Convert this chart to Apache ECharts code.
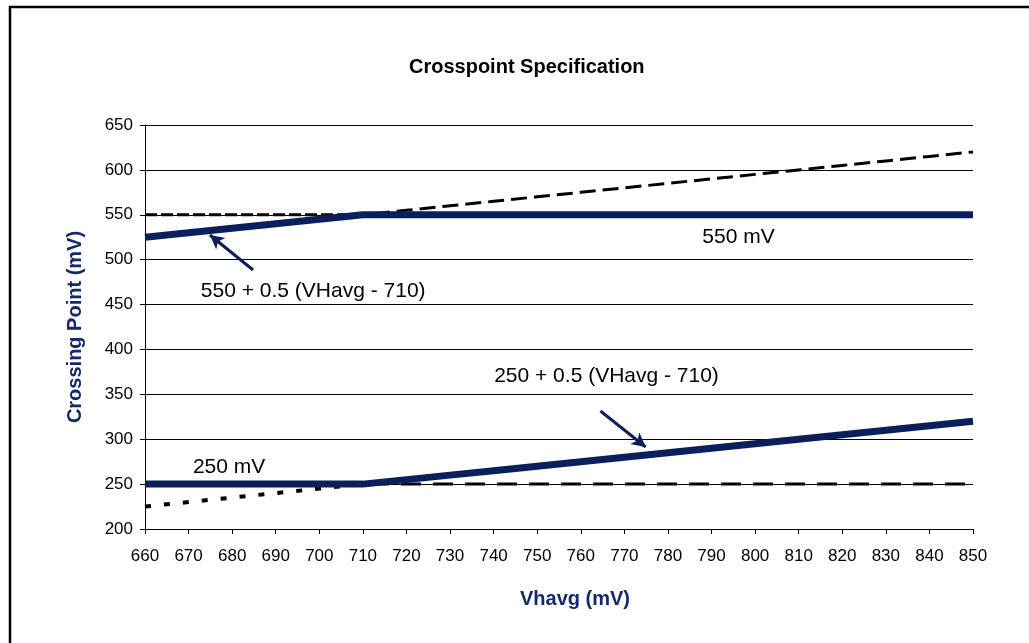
<!DOCTYPE html>
<html>
<head>
<meta charset="utf-8">
<script src="https://cdn.jsdelivr.net/npm/echarts@6/dist/echarts.min.js"></script>
<style>
html,body{margin:0;padding:0;background:#fff;}
#chart{width:1029px;height:643px;}
</style>
</head>
<body>
<div id="chart"></div>
<script>
// ---- data ----
var vhavg = [660,670,680,690,700,710,720,730,740,750,760,770,780,790,800,810,820,830,840,850];
var upperFlat  = [550,550,550,550,550,550,550,550,550,550,550,550,550,550,550,550,550,550,550,550];
var upperSlope = [525,530,535,540,545,550,555,560,565,570,575,580,585,590,595,600,605,610,615,620];
var upperSpec  = [525,530,535,540,545,550,550,550,550,550,550,550,550,550,550,550,550,550,550,550];
var lowerFlat  = [250,250,250,250,250,250,250,250,250,250,250,250,250,250,250,250,250,250,250,250];
var lowerSlope = [225,230,235,240,245,250,255,260,265,270,275,280,285,290,295,300,305,310,315,320];
var lowerSpec  = [250,250,250,250,250,250,255,260,265,270,275,280,285,290,295,300,305,310,315,320];
var yTicks = [200,250,300,350,400,450,500,550,600,650];

var labelTexts = ['550 mV', '550 + 0.5 (VHavg - 710)', '250 + 0.5 (VHavg - 710)', '250 mV'];
var labelCoords = [[796.2,525.2],[698.6,465.1],[765.9,370.4],[679.3,269.1]];
var arrowFrom = [[684.8,488.5],[764.5,331.4]];
var arrowTo   = [[674.9,527.5],[774.9,291.3]];

var NAVY = '#0b1f5c';
var FONT = 'Liberation Sans, Arial, sans-serif';
function pairs(ys){ return vhavg.map(function(x,i){ return [x, ys[i]]; }); }

var chart = echarts.init(document.getElementById('chart'), null, {renderer:'canvas'});
var option = {
  backgroundColor:'#fff',
  animation:false,
  title:{
    text:'Crosspoint Specification',
    left:404, top:52,
    textStyle:{fontFamily:FONT, fontWeight:'bold', fontSize:20, color:'#000'}
  },
  grid:{left:145, right:56, top:125, bottom:114},
  xAxis:{
    type:'value', min:660, max:850, interval:10,
    name:'Vhavg (mV)', nameLocation:'middle', nameGap:60,
    nameTextStyle:{fontFamily:FONT, fontWeight:'bold', fontSize:20, color:'#13296b', padding:[0,0,0,32]},
    axisLine:{show:true, lineStyle:{color:'#000', width:1}},
    axisTick:{show:true, length:5, lineStyle:{color:'#000'}},
    axisLabel:{margin:19, fontFamily:FONT, fontSize:17, color:'#000'},
    splitLine:{show:false}
  },
  yAxis:{
    type:'value', min:yTicks[0], max:yTicks[yTicks.length-1], interval:50,
    name:'Crossing Point (mV)', nameLocation:'middle', nameGap:60, nameRotate:90,
    nameTextStyle:{fontFamily:FONT, fontWeight:'bold', fontSize:20, color:'#13296b'},
    axisLine:{show:true, lineStyle:{color:'#000', width:1}},
    axisTick:{show:true, inside:false, length:5, lineStyle:{color:'#000'}},
    axisLabel:{margin:12, fontFamily:FONT, fontSize:17, color:'#000'},
    splitLine:{show:true, lineStyle:{color:'#000', width:1}}
  },
  series:[
    {type:'line', data:pairs(upperFlat), symbol:'none', lineStyle:{color:'#000', width:3, type:[12,4]}, z:2},
    {type:'line', data:pairs(upperSlope), symbol:'none', lineStyle:{color:'#000', width:3, type:[16,7]}, z:2},
    {type:'line', data:pairs(lowerFlat), symbol:'none', lineStyle:{color:'#000', width:3, type:[20,12]}, z:2},
    {type:'line', data:pairs(lowerSlope), symbol:'none', lineStyle:{color:'#000', width:4, type:[6,13]}, z:2},
    {type:'line', data:pairs(upperSpec), symbol:'none', lineStyle:{color:NAVY, width:7}, z:3},
    {type:'line', data:pairs(lowerSpec), symbol:'none', lineStyle:{color:NAVY, width:7}, z:3,
      markLine:{
        silent:true, symbol:['none','arrow'], symbolSize:[11,14],
        lineStyle:{color:NAVY, width:3, type:'solid'},
        label:{show:false},
        data: arrowFrom.map(function(f,i){ return [{coord:f},{coord:arrowTo[i]}]; })
      },
      markPoint:{
        silent:true, symbol:'circle', symbolSize:1, itemStyle:{color:'rgba(0,0,0,0)'},
        label:{show:true, position:'inside', fontFamily:FONT, fontSize:21, color:'#000',
          formatter:function(p){ return p.name; }},
        data: labelTexts.map(function(t,i){ return {name:t, coord:labelCoords[i]}; })
      }
    }
  ],
  graphic:[
    {type:'polyline', shape:{points:[[10,660],[10,7],[1040,7]]}, style:{stroke:'#000', lineWidth:2.5, fill:null}, z:10}
  ]
};
chart.setOption(option);
</script>
</body>
</html>
